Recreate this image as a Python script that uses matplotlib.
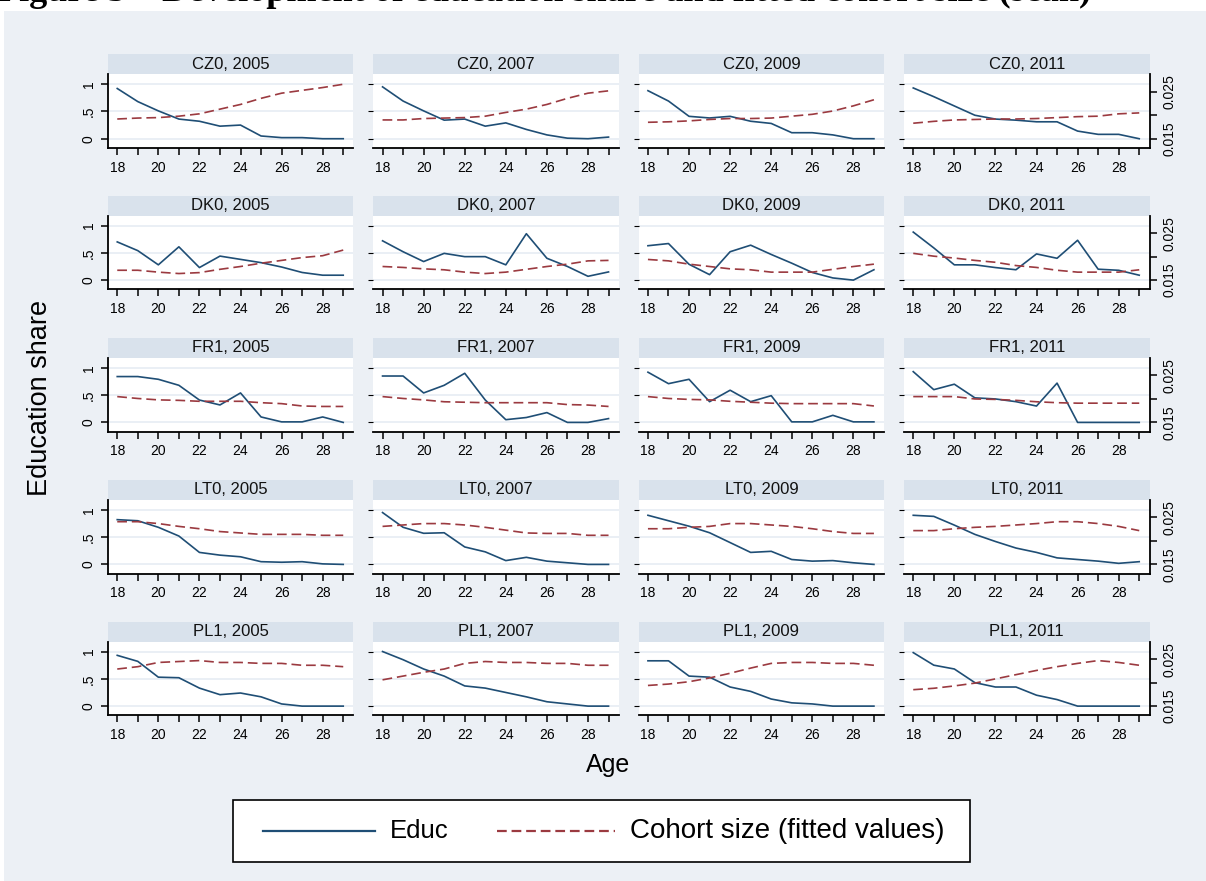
import matplotlib
matplotlib.use("Agg")
import matplotlib.pyplot as plt
from matplotlib.patches import Rectangle
from matplotlib.lines import Line2D

plt.rcParams["font.family"] = ["Liberation Sans", "DejaVu Sans"]
plt.rcParams["lines.scale_dashes"] = False

# ---------------------------------------------------------------- data
ages = list(range(18, 30))
regions = ["CZ0", "DK0", "FR1", "LT0", "PL1"]
years = [2005, 2007, 2009, 2011]

# Education share by age (left axis)
educ_CZ0 = [
    [0.92, 0.68, 0.51, 0.36, 0.32, 0.23, 0.25, 0.05, 0.02, 0.02, 0.00, 0.00],
    [0.95, 0.69, 0.51, 0.34, 0.36, 0.23, 0.29, 0.17, 0.07, 0.01, 0.00, 0.03],
    [0.88, 0.69, 0.41, 0.38, 0.41, 0.32, 0.28, 0.11, 0.11, 0.07, 0.00, 0.00],
    [0.93, 0.77, 0.60, 0.43, 0.36, 0.34, 0.31, 0.31, 0.14, 0.08, 0.08, 0.00],
]
educ_DK0 = [
    [0.70, 0.54, 0.28, 0.61, 0.23, 0.44, 0.38, 0.32, 0.24, 0.14, 0.09, 0.09],
    [0.72, 0.52, 0.34, 0.49, 0.43, 0.43, 0.28, 0.85, 0.40, 0.25, 0.07, 0.15],
    [0.63, 0.67, 0.29, 0.10, 0.52, 0.64, 0.47, 0.31, 0.14, 0.04, 0.00, 0.19],
    [0.88, 0.59, 0.28, 0.28, 0.23, 0.19, 0.48, 0.40, 0.73, 0.20, 0.18, 0.09],
]
educ_FR1 = [
    [0.84, 0.84, 0.79, 0.68, 0.41, 0.32, 0.54, 0.10, 0.01, 0.01, 0.10, 0.00],
    [0.85, 0.85, 0.54, 0.68, 0.90, 0.41, 0.05, 0.09, 0.18, 0.00, 0.00, 0.07],
    [0.92, 0.71, 0.79, 0.38, 0.59, 0.38, 0.49, 0.01, 0.01, 0.13, 0.01, 0.01],
    [0.93, 0.60, 0.70, 0.45, 0.43, 0.38, 0.30, 0.72, 0.00, 0.00, 0.00, 0.00],
]
educ_LT0 = [
    [0.82, 0.80, 0.68, 0.52, 0.22, 0.17, 0.14, 0.05, 0.04, 0.05, 0.01, 0.00],
    [0.95, 0.68, 0.57, 0.58, 0.32, 0.23, 0.07, 0.13, 0.06, 0.03, 0.00, 0.00],
    [0.90, 0.80, 0.70, 0.58, 0.40, 0.22, 0.24, 0.09, 0.06, 0.07, 0.03, 0.00],
    [0.90, 0.88, 0.72, 0.55, 0.42, 0.30, 0.22, 0.12, 0.09, 0.06, 0.02, 0.05],
]
educ_PL1 = [
    [0.93, 0.82, 0.53, 0.52, 0.33, 0.21, 0.24, 0.17, 0.04, 0.00, 0.00, 0.00],
    [1.00, 0.85, 0.68, 0.55, 0.37, 0.33, 0.25, 0.17, 0.08, 0.04, 0.00, 0.00],
    [0.83, 0.83, 0.55, 0.53, 0.35, 0.27, 0.13, 0.06, 0.04, 0.00, 0.00, 0.00],
    [0.98, 0.75, 0.68, 0.43, 0.35, 0.35, 0.20, 0.12, 0.00, 0.00, 0.00, 0.00],
]

# Cohort size, fitted values (right axis)
cohort_CZ0 = [
    [0.0192, 0.0194, 0.0195, 0.0198, 0.0203, 0.0213, 0.0223, 0.0236, 0.0247, 0.0253, 0.0259, 0.0266],
    [0.0190, 0.0190, 0.0193, 0.0194, 0.0195, 0.0198, 0.0206, 0.0213, 0.0223, 0.0236, 0.0247, 0.0252],
    [0.0185, 0.0186, 0.0188, 0.0191, 0.0193, 0.0193, 0.0194, 0.0198, 0.0202, 0.0209, 0.0220, 0.0233],
    [0.0183, 0.0187, 0.0190, 0.0191, 0.0192, 0.0192, 0.0193, 0.0195, 0.0197, 0.0198, 0.0203, 0.0205],
]
cohort_DK0 = [
    [0.0171, 0.0171, 0.0167, 0.0164, 0.0166, 0.0173, 0.0179, 0.0186, 0.0192, 0.0198, 0.0202, 0.0214],
    [0.0179, 0.0177, 0.0174, 0.0172, 0.0167, 0.0164, 0.0167, 0.0173, 0.0179, 0.0184, 0.0191, 0.0192],
    [0.0194, 0.0191, 0.0184, 0.0179, 0.0174, 0.0172, 0.0167, 0.0167, 0.0167, 0.0173, 0.0179, 0.0184],
    [0.0207, 0.0201, 0.0197, 0.0192, 0.0188, 0.0181, 0.0177, 0.0171, 0.0167, 0.0167, 0.0167, 0.0172],
]
cohort_FR1 = [
    [0.0205, 0.0201, 0.0198, 0.0197, 0.0195, 0.0195, 0.0195, 0.0192, 0.0190, 0.0185, 0.0184, 0.0184],
    [0.0205, 0.0201, 0.0198, 0.0194, 0.0193, 0.0192, 0.0192, 0.0192, 0.0192, 0.0188, 0.0187, 0.0184],
    [0.0205, 0.0201, 0.0199, 0.0198, 0.0195, 0.0193, 0.0191, 0.0190, 0.0190, 0.0190, 0.0190, 0.0185],
    [0.0205, 0.0205, 0.0205, 0.0200, 0.0199, 0.0197, 0.0194, 0.0192, 0.0191, 0.0191, 0.0191, 0.0191],
]
cohort_LT0 = [
    [0.0241, 0.0241, 0.0237, 0.0231, 0.0226, 0.0220, 0.0217, 0.0214, 0.0214, 0.0214, 0.0212, 0.0212],
    [0.0231, 0.0234, 0.0237, 0.0237, 0.0234, 0.0229, 0.0223, 0.0217, 0.0216, 0.0216, 0.0212, 0.0212],
    [0.0226, 0.0226, 0.0229, 0.0231, 0.0237, 0.0237, 0.0234, 0.0231, 0.0226, 0.0220, 0.0216, 0.0216],
    [0.0222, 0.0222, 0.0226, 0.0229, 0.0231, 0.0234, 0.0237, 0.0241, 0.0241, 0.0237, 0.0231, 0.0222],
]
cohort_PL1 = [
    [0.0229, 0.0234, 0.0243, 0.0245, 0.0247, 0.0243, 0.0243, 0.0241, 0.0241, 0.0237, 0.0237, 0.0234],
    [0.0206, 0.0214, 0.0222, 0.0229, 0.0241, 0.0245, 0.0243, 0.0243, 0.0241, 0.0241, 0.0237, 0.0237],
    [0.0194, 0.0197, 0.0202, 0.0210, 0.0220, 0.0231, 0.0241, 0.0243, 0.0243, 0.0241, 0.0241, 0.0237],
    [0.0185, 0.0188, 0.0193, 0.0199, 0.0208, 0.0217, 0.0226, 0.0234, 0.0241, 0.0247, 0.0243, 0.0237],
]

educ = {"CZ0": educ_CZ0, "DK0": educ_DK0, "FR1": educ_FR1, "LT0": educ_LT0, "PL1": educ_PL1}
cohort = {"CZ0": cohort_CZ0, "DK0": cohort_DK0, "FR1": cohort_FR1, "LT0": cohort_LT0, "PL1": cohort_PL1}

left_ticks = [0, 0.5, 1]
left_labels = ["0", ".5", "1"]
right_ticks = [0.015, 0.020, 0.025]
right_labels = ["0.015", "", "0.025"]
x_ticks = ages
x_labels = [str(a) if a % 2 == 0 else "" for a in ages]

# ---------------------------------------------------------------- style
W, H = 1206, 881
BG = "#ECF0F5"
STRIP = "#D9E2EC"
GRID = "#E6ECF3"
BLUE = "#1F4E75"
RED = "#9B3A40"

fig = plt.figure(figsize=(W / 100, H / 100), dpi=100)
fig.patch.set_facecolor("white")
fig.patches.append(Rectangle((4 / W, 0), 1, 1 - 11 / H, transform=fig.transFigure,
                             facecolor=BG, edgecolor="none", zorder=-10))

# caption line running off the top edge of the page
fig.text(-3 / W, 1 - 1 / H, "Figure 5 \u2013 Development of education share and fitted cohort size (scan)",
         fontsize=26, fontweight="bold", family=["Liberation Serif", "DejaVu Serif"],
         ha="left", va="baseline", color="black")

col_x = [108, 373.3, 638.7, 904]
row_top = [74.3, 215.7, 358.0, 500.0, 641.7]
pw, ph, sh = 245.5, 73.7, 20

def rect(x, y, w, h):
    return [x / W, 1 - (y + h) / H, w / W, h / H]

ylim_left = (-0.17, 1.18)
ylim_right = (0.015 + ylim_left[0] / 86, 0.015 + ylim_left[1] / 86)

for r, reg in enumerate(regions):
    for c, yr in enumerate(years):
        x0, y0 = col_x[c], row_top[r]
        # header strip
        sax = fig.add_axes(rect(x0, y0 - sh, pw, sh))
        sax.set_facecolor(STRIP)
        sax.set_xticks([]); sax.set_yticks([])
        for s in sax.spines.values():
            s.set_visible(False)
        sax.text(0.5, 0.5, f"{reg}, {yr}", ha="center", va="center",
                 fontsize=12, transform=sax.transAxes, color="#111111")

        ax = fig.add_axes(rect(x0, y0, pw, ph))
        ax.set_facecolor("white")
        ax.set_xlim(17.55, 29.5)
        ax.set_ylim(*ylim_left)
        ax.set_yticks(left_ticks)
        ax.grid(axis="y", color=GRID, lw=1.2)
        ax.set_axisbelow(True)
        for s in ["top", "right"]:
            ax.spines[s].set_visible(False)
        ax.spines["bottom"].set_linewidth(1.3)
        ax.spines["left"].set_linewidth(1.3)
        ax.set_xticks(x_ticks)
        ax.set_xticklabels(x_labels)
        ax.tick_params(axis="x", direction="out", length=5, width=1.1, pad=4,
                       labelsize=10, colors="black")
        if c == 0:
            ax.set_yticklabels(left_labels, rotation=90, va="center")
            ax.tick_params(axis="y", direction="out", length=5, width=1.1, pad=4, labelsize=10)
        else:
            ax.spines["left"].set_visible(False)
            ax.tick_params(axis="y", left=False, labelleft=False)

        ax.plot(ages, educ[reg][c], color=BLUE, lw=1.2, zorder=3)

        ax2 = ax.twinx()
        ax2.set_ylim(*ylim_right)
        ax2.set_yticks(right_ticks)
        for s in ["top", "left", "bottom"]:
            ax2.spines[s].set_visible(False)
        if c == 3:
            ax2.spines["right"].set_linewidth(1.3)
            ax2.set_yticklabels(right_labels, rotation=90, va="center")
            ax2.tick_params(axis="y", direction="out", length=5, width=1.1, pad=4, labelsize=10)
        else:
            ax2.spines["right"].set_visible(False)
            ax2.tick_params(axis="y", right=False, labelright=False)
        ax2.plot(ages, cohort[reg][c], color=RED, lw=1.2, dashes=(7, 3.5))

# axis titles
fig.text(40 / W, 1 - 398 / H, "Education share", rotation=90, ha="center", va="center", fontsize=19.5)
fig.text(608 / W, 1 - 765 / H, "Age", ha="center", va="center", fontsize=18)

# legend box
fig.patches.append(Rectangle((233 / W, 1 - 862 / H), (970 - 233) / W, 62 / H,
                             transform=fig.transFigure, facecolor="white",
                             edgecolor="black", lw=1.2))
ly = 1 - 831 / H
fig.add_artist(Line2D([263 / W, 375 / W], [ly, ly], transform=fig.transFigure,
                      color=BLUE, lw=1.6))
fig.add_artist(Line2D([497 / W, 615 / W], [ly, ly], transform=fig.transFigure,
                      color=RED, lw=1.6, dashes=(7, 3.5)))
fig.text(390 / W, ly, "Educ", ha="left", va="center", fontsize=18.5)
fig.text(630 / W, ly, "Cohort size (fitted values)", ha="left", va="center", fontsize=20)

fig.savefig("out.png", dpi=100, facecolor=fig.get_facecolor())
